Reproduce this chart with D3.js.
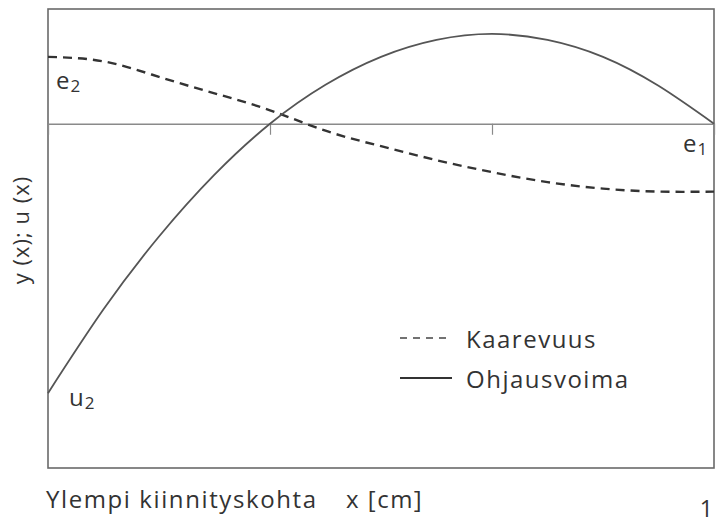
<!DOCTYPE html>
<html>
<head>
<meta charset="utf-8">
<script src="https://cdn.jsdelivr.net/npm/d3@7"></script>
<style>
  html, body { margin: 0; padding: 0; background: #fff; }
  svg { display: block; }
  text { font-family: "Open Sans", "Noto Sans", sans-serif; fill: #333; }
</style>
</head>
<body>
<svg id="chart" width="716" height="525"></svg>
<script>
// Position along the beam (x), sampled every quarter unit
const xs = [0, 0.25, 0.5, 0.75, 1, 1.25, 1.5, 1.75, 2, 2.25, 2.5, 2.75, 3];
// Kaarevuus (curvature), dashed
const kaarevuus = [0.67, 0.625, 0.47, 0.305, 0.135, -0.07, -0.225, -0.365, -0.485, -0.585, -0.65, -0.68, -0.68];
// Ohjausvoima (steering force), solid
const ohjausvoima = [-2.70, -1.86, -1.13, -0.51, 0.0, 0.39, 0.67, 0.84, 0.90, 0.84, 0.67, 0.38, 0.0];
// Tick positions on the zero line
const xTicks = [1, 2];
const legendLabels = ["Kaarevuus", "Ohjausvoima"];

const svg = d3.select("#chart");
const plotLeft = 48, plotRight = 714, plotTop = 9, plotBottom = 468;

const x = d3.scaleLinear().domain([0, 3]).range([plotLeft, plotRight]);
const y = d3.scaleLinear().domain([-3.45, 1.15]).range([plotBottom, plotTop]);

// Plot frame
svg.append("rect")
  .attr("x", plotLeft).attr("y", plotTop)
  .attr("width", plotRight - plotLeft).attr("height", plotBottom - plotTop)
  .attr("fill", "none").attr("stroke", "#6a6a6a").attr("stroke-width", 1.6);

// Zero line with downward ticks
const zeroAxis = d3.axisBottom(x).tickValues(xTicks).tickSize(11).tickFormat("");
const gz = svg.append("g").attr("transform", `translate(0,${y(0)})`).call(zeroAxis);
gz.select(".domain").attr("stroke", "#8a8a8a").attr("stroke-width", 1.3);
gz.selectAll(".tick line").attr("stroke", "#8a8a8a").attr("stroke-width", 1.2);

const line = d3.line().x((d, i) => x(xs[i])).y(d => y(d)).curve(d3.curveNatural);

// Curvature (dashed)
svg.append("path")
  .datum(kaarevuus)
  .attr("d", line)
  .attr("fill", "none").attr("stroke", "#333").attr("stroke-width", 2.4)
  .attr("stroke-dasharray", "9,6");

// Steering force (solid)
svg.append("path")
  .datum(ohjausvoima)
  .attr("d", line)
  .attr("fill", "none").attr("stroke", "#555").attr("stroke-width", 1.8);

// Point labels with subscripts
function subLabel(tx, ty, base, sub) {
  const t = svg.append("text").attr("x", tx).attr("y", ty).attr("font-size", 24);
  t.append("tspan").text(base);
  t.append("tspan").attr("font-size", 17).attr("dy", 3).attr("dx", 1).text(sub);
}
subLabel(56, 89, "e", "2");
subLabel(683, 152, "e", "1");
subLabel(69, 406, "u", "2");

// Legend
const legendY = [338, 378];
svg.append("line")
  .attr("x1", 400).attr("x2", 452).attr("y1", legendY[0]).attr("y2", legendY[0])
  .attr("stroke", "#444").attr("stroke-width", 1.6).attr("stroke-dasharray", "7,6");
svg.append("line")
  .attr("x1", 400).attr("x2", 452).attr("y1", legendY[1]).attr("y2", legendY[1])
  .attr("stroke", "#333").attr("stroke-width", 1.8);
legendLabels.forEach((lab, i) => {
  svg.append("text").attr("x", 466).attr("y", legendY[i] + 10)
    .attr("font-size", 24).attr("letter-spacing", 1.5).text(lab);
});

// Axis titles
svg.append("text")
  .attr("transform", "translate(29,230) rotate(-90)")
  .attr("text-anchor", "middle").attr("font-size", 22).attr("letter-spacing", 1)
  .text("y (x); u (x)");
svg.append("text").attr("x", 46).attr("y", 508)
  .attr("font-size", 24).attr("letter-spacing", 1.6).text("Ylempi kiinnityskohta");
svg.append("text").attr("x", 346).attr("y", 508)
  .attr("font-size", 24).attr("letter-spacing", 1.5).text("x [cm]");
svg.append("text").attr("x", 713).attr("y", 517).attr("text-anchor", "end")
  .attr("font-size", 23).text("1");
</script>
</body>
</html>
